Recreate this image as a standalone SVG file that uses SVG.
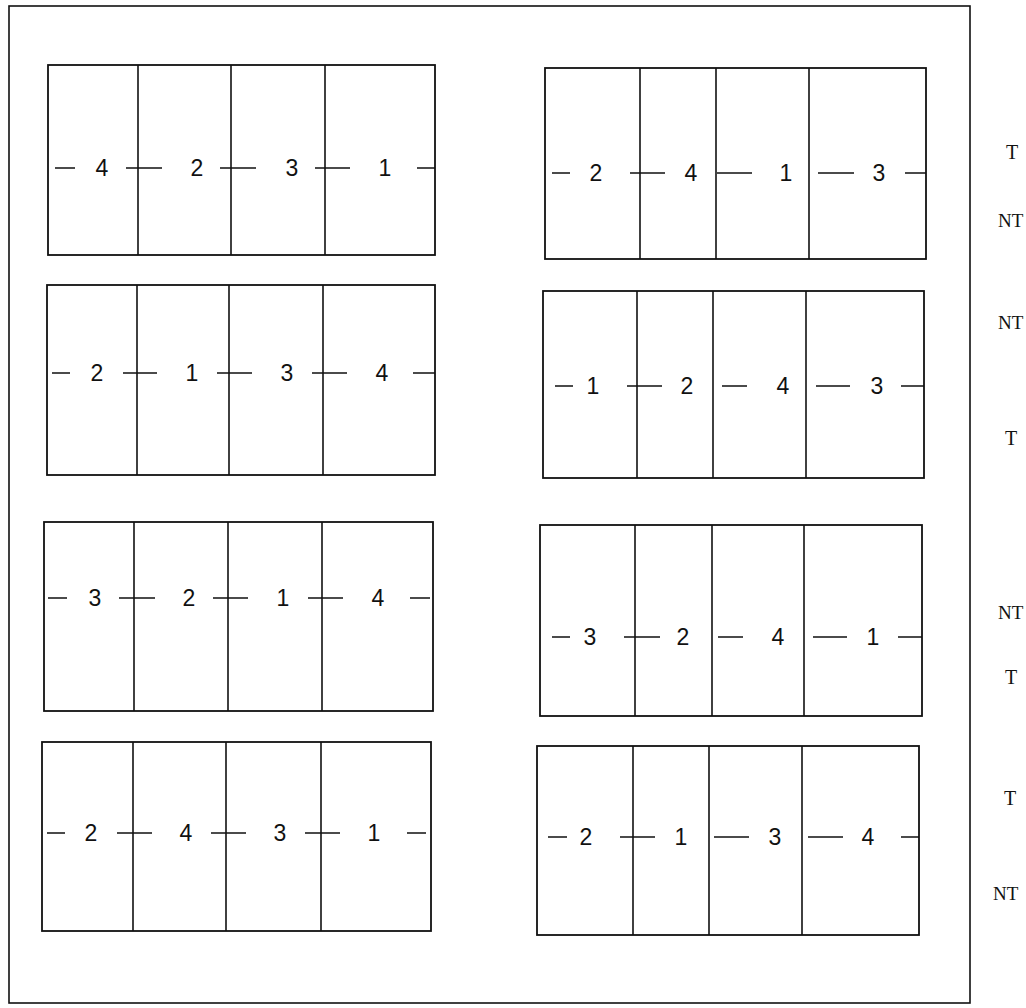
<svg xmlns="http://www.w3.org/2000/svg" width="1026" height="1008" viewBox="0 0 1026 1008">
<style>
.frame{fill:none;stroke:#111;stroke-width:1.6}
.box{fill:none;stroke:#111;stroke-width:1.8}
.div{stroke:#111;stroke-width:1.6}
.dash{stroke:#111;stroke-width:1.7}
.num{font-family:"Liberation Sans",Arial,sans-serif;font-size:23px;fill:#111;text-anchor:middle}
.lab{font-family:"Liberation Serif","Times New Roman",serif;font-size:20px;fill:#111}
.labn{font-family:"Liberation Serif","Times New Roman",serif;font-size:19px;fill:#111}
</style>
<rect width="1026" height="1008" fill="#fff"/>
<rect id="frame" class="frame" x="9" y="6" width="961" height="997"/>

<g id="box1">
<rect class="box" x="48" y="65" width="387" height="190"/>
<line class="div" x1="138" y1="65" x2="138" y2="255"/><line class="div" x1="231" y1="65" x2="231" y2="255"/><line class="div" x1="325" y1="65" x2="325" y2="255"/>
<path class="dash" d="M55 168H75M126 168H162M220 168H256M315 168H350M417 168H435"/>
<text class="num" x="102" y="176">4</text><text class="num" x="197" y="176">2</text><text class="num" x="292" y="176">3</text><text class="num" x="385" y="176">1</text>
</g>

<g id="box2">
<rect class="box" x="545" y="68" width="381" height="191"/>
<line class="div" x1="640" y1="68" x2="640" y2="259"/><line class="div" x1="716" y1="68" x2="716" y2="259"/><line class="div" x1="809" y1="68" x2="809" y2="259"/>
<path class="dash" d="M552 173H570M630 173H665M717 173H752M818 173H854M905 173H926"/>
<text class="num" x="596" y="181">2</text><text class="num" x="691" y="181">4</text><text class="num" x="786" y="181">1</text><text class="num" x="879" y="181">3</text>
</g>

<g id="box3">
<rect class="box" x="47" y="285" width="388" height="190"/>
<line class="div" x1="137" y1="285" x2="137" y2="475"/><line class="div" x1="229" y1="285" x2="229" y2="475"/><line class="div" x1="323" y1="285" x2="323" y2="475"/>
<path class="dash" d="M52 373H70M123 373H157M217 373H252M312 373H347M413 373H435"/>
<text class="num" x="97" y="381">2</text><text class="num" x="192" y="381">1</text><text class="num" x="287" y="381">3</text><text class="num" x="382" y="381">4</text>
</g>

<g id="box4">
<rect class="box" x="543" y="291" width="381" height="187"/>
<line class="div" x1="637" y1="291" x2="637" y2="478"/><line class="div" x1="713" y1="291" x2="713" y2="478"/><line class="div" x1="806" y1="291" x2="806" y2="478"/>
<path class="dash" d="M555 386H573M627 386H662M722 386H747M816 386H850M901 386H924"/>
<text class="num" x="593" y="394">1</text><text class="num" x="687" y="394">2</text><text class="num" x="783" y="394">4</text><text class="num" x="877" y="394">3</text>
</g>

<g id="box5">
<rect class="box" x="44" y="522" width="389" height="189"/>
<line class="div" x1="134" y1="522" x2="134" y2="711"/><line class="div" x1="228" y1="522" x2="228" y2="711"/><line class="div" x1="322" y1="522" x2="322" y2="711"/>
<path class="dash" d="M48 598H67M119 598H155M213 598H248M308 598H343M410 598H430"/>
<text class="num" x="95" y="606">3</text><text class="num" x="189" y="606">2</text><text class="num" x="283" y="606">1</text><text class="num" x="378" y="606">4</text>
</g>

<g id="box6">
<rect class="box" x="540" y="525" width="382" height="191"/>
<line class="div" x1="635" y1="525" x2="635" y2="716"/><line class="div" x1="712" y1="525" x2="712" y2="716"/><line class="div" x1="804" y1="525" x2="804" y2="716"/>
<path class="dash" d="M552 637H570M624 637H660M718 637H743M813 637H847M898 637H922"/>
<text class="num" x="590" y="645">3</text><text class="num" x="683" y="645">2</text><text class="num" x="778" y="645">4</text><text class="num" x="873" y="645">1</text>
</g>

<g id="box7">
<rect class="box" x="42" y="742" width="389" height="189"/>
<line class="div" x1="133" y1="742" x2="133" y2="931"/><line class="div" x1="226" y1="742" x2="226" y2="931"/><line class="div" x1="321" y1="742" x2="321" y2="931"/>
<path class="dash" d="M47 833H65M117 833H152M211 833H246M305 833H340M407 833H426"/>
<text class="num" x="91" y="841">2</text><text class="num" x="186" y="841">4</text><text class="num" x="280" y="841">3</text><text class="num" x="374" y="841">1</text>
</g>

<g id="box8">
<rect class="box" x="537" y="746" width="382" height="189"/>
<line class="div" x1="633" y1="746" x2="633" y2="935"/><line class="div" x1="709" y1="746" x2="709" y2="935"/><line class="div" x1="802" y1="746" x2="802" y2="935"/>
<path class="dash" d="M548 837H567M620 837H655M714 837H749M808 837H843M901 837H919"/>
<text class="num" x="586" y="845">2</text><text class="num" x="681" y="845">1</text><text class="num" x="775" y="845">3</text><text class="num" x="868" y="845">4</text>
</g>

<g id="labels">
<text class="lab" x="1006" y="159">T</text>
<text class="labn" x="998" y="227">NT</text>
<text class="labn" x="998" y="329">NT</text>
<text class="lab" x="1005" y="445">T</text>
<text class="labn" x="998" y="619">NT</text>
<text class="lab" x="1005" y="684">T</text>
<text class="lab" x="1004" y="805">T</text>
<text class="labn" x="993" y="900">NT</text>
</g>
</svg>
